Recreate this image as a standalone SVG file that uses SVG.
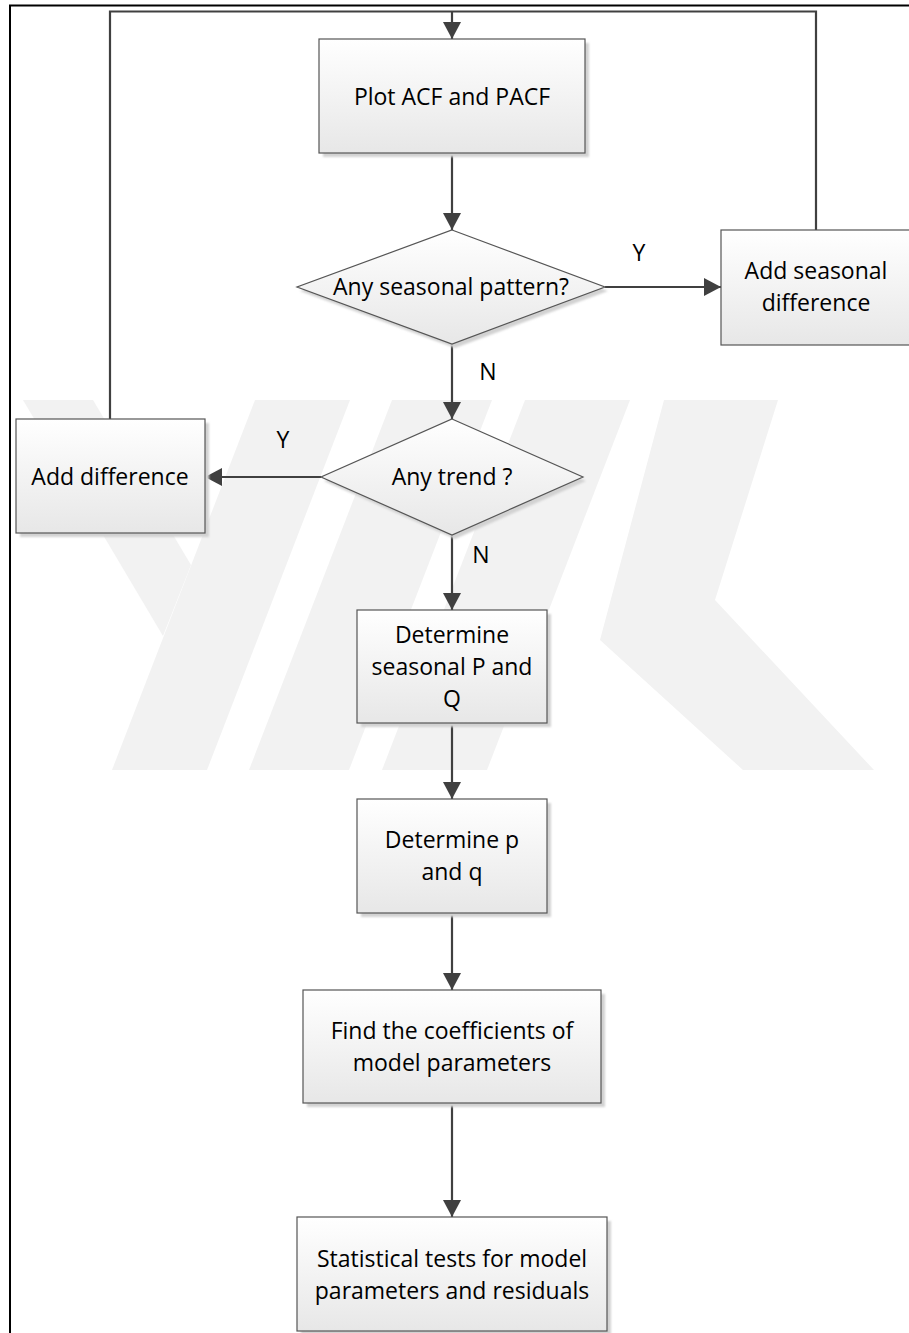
<svg xmlns="http://www.w3.org/2000/svg" width="909" height="1333" viewBox="0 0 909 1333">
  <defs>
    <style>
      .box { fill: url(#fillGrad); stroke: #555555; stroke-width: 1.2; }
      .shadow { fill: #d2d2d2; filter: url(#soft); }
      .conn { fill: none; stroke: #404040; stroke-width: 2.2; }
      .frame { fill: none; stroke: #000; stroke-width: 2; }
      .mark { fill: #f2f2f2; }
      text { font-family: "Open Sans", "Liberation Sans", sans-serif; font-size: 23px; fill: #000; text-anchor: middle; }
    </style>
    <linearGradient id="fillGrad" x1="0" y1="0" x2="0" y2="1">
      <stop offset="0" stop-color="#ffffff"/>
      <stop offset="1" stop-color="#e7e7e7"/>
    </linearGradient>
    <filter id="soft" x="-10%" y="-10%" width="120%" height="120%">
      <feGaussianBlur stdDeviation="1"/>
    </filter>
    <marker id="arrow" markerUnits="userSpaceOnUse" markerWidth="17" markerHeight="18" refX="17" refY="9" orient="auto">
      <path d="M0,0 L17,9 L0,18 z" fill="#404040"/>
    </marker>
  </defs>

  <rect width="909" height="1333" fill="#ffffff"/>

  <!-- faint background logo stripes -->
  <g id="watermark">
    <polygon class="mark" points="23,400 93,400 191,565 163,636"/>
    <polygon class="mark" points="255,400 350,400 207,770 112,770"/>
    <polygon class="mark" points="392,400 492,400 349,770 249,770"/>
    <polygon class="mark" points="525,400 630,400 487,770 382,770"/>
    <polygon class="mark" points="664,400 778,400 715,600 874,770 743,770 600,640"/>
  </g>

  <!-- page frame -->
  <path class="frame" d="M9,5.5 H909 M10,5 V1333"/>

  <g id="connectors">
    <path class="conn" d="M816,230 V11.5 H110 V419"/>
    <path class="conn" d="M452,11.5 V39" marker-end="url(#arrow)"/>
    <path class="conn" d="M452,153 V230" marker-end="url(#arrow)"/>
    <path class="conn" d="M605,287 H721" marker-end="url(#arrow)"/>
    <path class="conn" d="M452,344 V419" marker-end="url(#arrow)"/>
    <path class="conn" d="M321,477 H205" marker-end="url(#arrow)"/>
    <path class="conn" d="M452,535 V610" marker-end="url(#arrow)"/>
    <path class="conn" d="M452,723 V799" marker-end="url(#arrow)"/>
    <path class="conn" d="M452,913 V990" marker-end="url(#arrow)"/>
    <path class="conn" d="M452,1103 V1217" marker-end="url(#arrow)"/>
  </g>

  <g id="labels">
    <text x="639" y="261">Y</text>
    <text x="283" y="448">Y</text>
    <text x="488" y="380">N</text>
    <text x="481" y="563">N</text>
  </g>

  <g id="plot-acf">
    <rect class="shadow" x="323" y="43" width="266" height="114"/>
    <rect class="box" x="319" y="39" width="266" height="114"/>
    <text x="452" y="105">Plot ACF and PACF</text>
  </g>

  <g id="seasonal-check">
    <polygon class="shadow" points="455,234 608,291 455,348 300,291"/>
    <polygon class="box" points="452,230 605,287 452,344 297,287"/>
    <text x="451" y="295">Any seasonal pattern?</text>
  </g>

  <g id="add-seasonal-diff">
    <rect class="box" x="721" y="230" width="191" height="115"/>
    <text x="816" y="279">Add seasonal</text>
    <text x="816" y="311">difference</text>
  </g>

  <g id="trend-check">
    <polygon class="shadow" points="455,423 586,481 455,539 324,481"/>
    <polygon class="box" points="452,419 583,477 452,535 321,477"/>
    <text x="452" y="485">Any trend ?</text>
  </g>

  <g id="add-diff">
    <rect class="shadow" x="20" y="423" width="189" height="114"/>
    <rect class="box" x="16" y="419" width="189" height="114"/>
    <text x="110" y="485">Add difference</text>
  </g>

  <g id="seasonal-pq">
    <rect class="shadow" x="361" y="614" width="190" height="113"/>
    <rect class="box" x="357" y="610" width="190" height="113"/>
    <text x="452" y="643">Determine</text>
    <text x="452" y="675">seasonal P and</text>
    <text x="452" y="707">Q</text>
  </g>

  <g id="order-pq">
    <rect class="shadow" x="361" y="803" width="190" height="114"/>
    <rect class="box" x="357" y="799" width="190" height="114"/>
    <text x="452" y="848">Determine p</text>
    <text x="452" y="880">and q</text>
  </g>

  <g id="coefficients">
    <rect class="shadow" x="307" y="994" width="298" height="113"/>
    <rect class="box" x="303" y="990" width="298" height="113"/>
    <text x="452" y="1039">Find the coefficients of</text>
    <text x="452" y="1071">model parameters</text>
  </g>

  <g id="stat-tests">
    <rect class="shadow" x="301" y="1221" width="310" height="114"/>
    <rect class="box" x="297" y="1217" width="310" height="114"/>
    <text x="452" y="1267">Statistical tests for model</text>
    <text x="452" y="1299">parameters and residuals</text>
  </g>
</svg>
